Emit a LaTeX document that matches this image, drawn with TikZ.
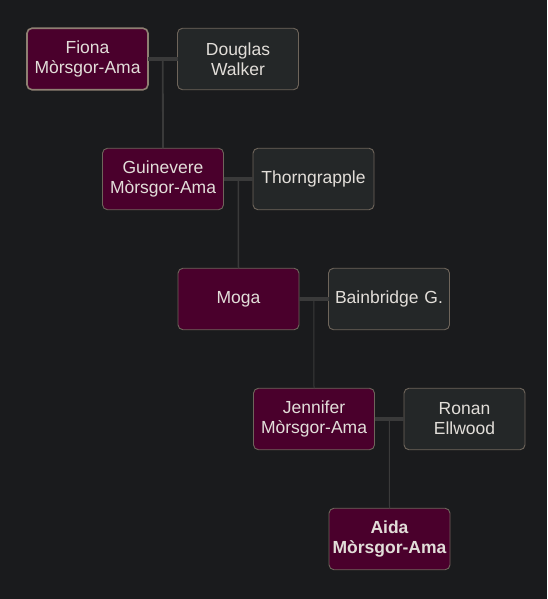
\documentclass[tikz,border=0pt]{standalone}
\usepackage{fontspec}
\setmainfont{Liberation Sans}
\usepackage{xcolor}
\usetikzlibrary{positioning, backgrounds}

\definecolor{bgdark}{HTML}{1A1B1D}
\definecolor{kinfill}{HTML}{4A002C}
\definecolor{spousefill}{HTML}{242728}
\definecolor{boxedge}{HTML}{6E655B}
\definecolor{rootedge}{HTML}{8E8072}
\definecolor{linkgrey}{HTML}{3A3A3A}
\definecolor{nametext}{HTML}{E2DED9}

\begin{document}
\begin{tikzpicture}[
    x=1pt, y=-1pt,
    node distance=58pt and 29.5pt,
    person/.style={rectangle, rounded corners=5pt, draw=boxedge, line width=0.9pt, outer sep=0pt, text width=115pt, minimum width=121pt, minimum height=61.5pt, inner sep=0pt, align=center, text=nametext, font=\fontsize{17.5}{20}\selectfont},
    kin/.style={person, fill=kinfill},
    spouse/.style={person, fill=spousefill},
    child/.style={kin, below=58.5pt of #1, xshift=15pt},
    couple/.style={line width=4pt, linkgrey},
    descent/.style={line width=1.5pt, linkgrey}
]

% === Background and page size ===
\fill[bgdark] (0,0) rectangle (547,599);

% === Generations: blood line on the left, partner on the right ===
\node[kin, draw=rootedge, line width=1.6pt] (fiona) at (87.5,59) {Fiona\\Mòrsgor-Ama};
\node[spouse, right=of fiona] (douglas) {Douglas\\Walker};

\node[child=fiona.south east] (guinevere) {Guinevere\\Mòrsgor-Ama};
\node[spouse, right=of guinevere] (thorngrapple) {Thorngrapple};

\node[child=guinevere.south east] (moga) {Moga};
\node[spouse, right=of moga] (bainbridge) {Bainbridge G.};

\node[child=moga.south east] (jennifer) {Jennifer\\Mòrsgor-Ama};
\node[spouse, right=of jennifer] (ronan) {Ronan\\Ellwood};

\node[child=jennifer.south east, font=\fontsize{17.5}{20}\selectfont\bfseries] (aida) {Aida\\Mòrsgor-Ama};

% === Partner links and descent lines ===
\foreach \parent/\partner/\kid/\w in {fiona/douglas/guinevere/1.8pt, guinevere/thorngrapple/moga/1.5pt, moga/bainbridge/jennifer/1pt, jennifer/ronan/aida/1pt} {
    \draw[couple] (\parent.east) -- (\partner.west) coordinate[midway] (\parent-union);
    \draw[descent, line width=\w] (\parent-union) -- (\kid.north);
}

\end{tikzpicture}
\end{document}
